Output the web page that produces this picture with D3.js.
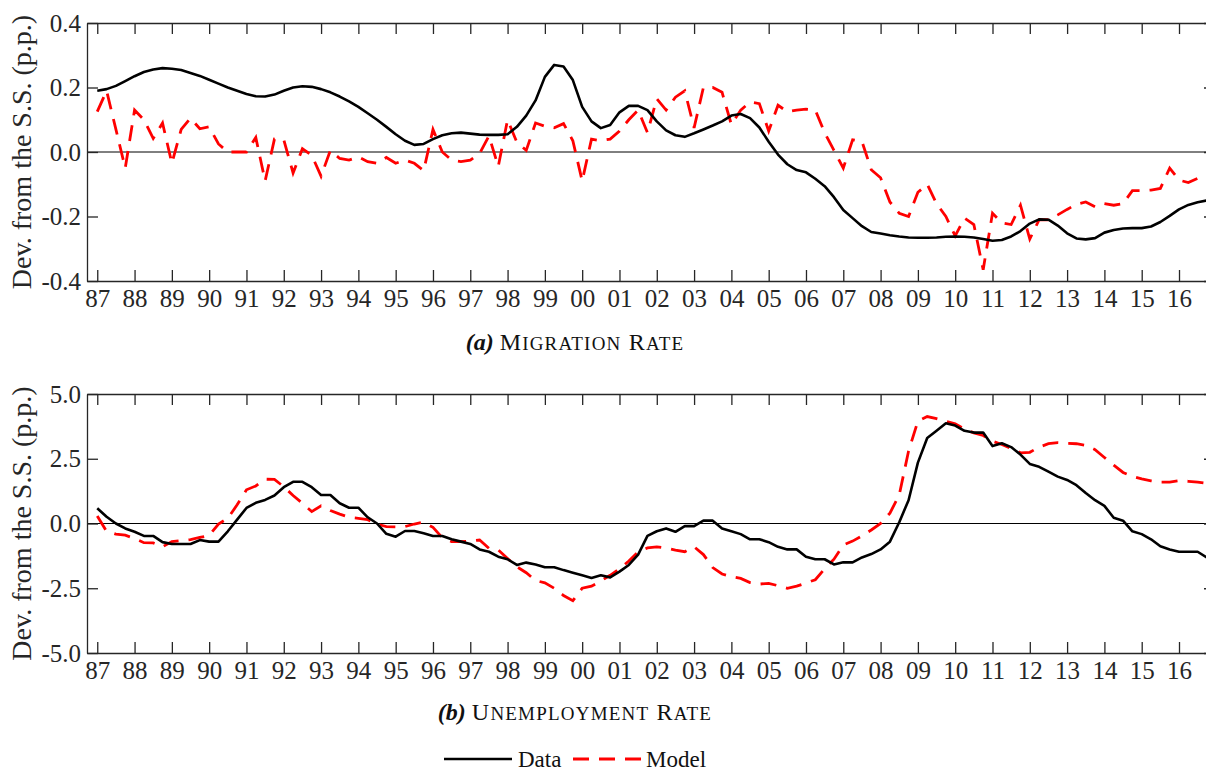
<!DOCTYPE html>
<html><head><meta charset="utf-8">
<script src="https://cdn.jsdelivr.net/npm/d3@7"></script>
<style>
body{margin:0;background:#fff;}
svg{display:block;}
</style>
</head><body>
<svg id="c" width="1206" height="771"></svg>
<script>
// ---- data (quarterly, 1987Q1 .. 2016Q4) ----
const startYear = 1987;
const yearLabels = ["87","88","89","90","91","92","93","94","95","96","97","98","99","00","01","02","03","04","05","06","07","08","09","10","11","12","13","14","15","16"];
const migrationTicks = [-0.4,-0.2,0.0,0.2,0.4];
const unempTicks = [-5.0,-2.5,0.0,2.5,5.0];
const seriesNames = ["Data","Model"];

const migrationData = [
 0.19,0.195,0.205,0.22,0.235,0.248,0.256,0.26,0.258,0.254,0.245,0.236,0.224,0.212,0.2,0.19,
 0.18,0.173,0.172,0.178,0.19,0.2,0.204,0.202,0.195,0.185,0.172,0.157,0.14,0.12,0.1,0.078,
 0.055,0.035,0.022,0.025,0.04,0.052,0.058,0.06,0.057,0.054,0.053,0.053,0.055,0.078,0.113,0.16,
 0.233,0.27,0.265,0.223,0.14,0.095,0.074,0.084,0.123,0.143,0.143,0.13,0.095,0.067,0.052,0.047,
 0.058,0.07,0.082,0.095,0.113,0.118,0.105,0.076,0.032,-0.008,-0.038,-0.056,-0.063,-0.083,-0.106,-0.14,
 -0.18,-0.205,-0.23,-0.248,-0.253,-0.258,-0.262,-0.265,-0.266,-0.266,-0.265,-0.263,-0.262,-0.263,-0.265,-0.27,
 -0.275,-0.273,-0.262,-0.245,-0.222,-0.209,-0.21,-0.228,-0.252,-0.268,-0.271,-0.267,-0.25,-0.242,-0.237,-0.236,
 -0.236,-0.231,-0.217,-0.198,-0.178,-0.164,-0.156,-0.15];
const migrationModel = [
 0.125,0.19,0.07,-0.05,0.13,0.1,0.042,0.09,-0.035,0.07,0.105,0.072,0.078,0.025,0.0,0.0,
 0.0,0.045,-0.09,0.04,0.038,-0.065,0.01,-0.01,-0.075,0.005,-0.02,-0.025,-0.015,-0.03,-0.035,-0.017,
 -0.035,-0.025,-0.035,-0.058,0.07,0.0,-0.025,-0.03,-0.025,-0.005,0.05,-0.045,0.1,0.03,0.005,0.09,
 0.08,0.075,0.088,0.035,-0.09,0.04,0.035,0.04,0.065,0.1,0.13,0.06,0.165,0.13,0.17,0.19,
 0.075,0.2,0.2,0.185,0.085,0.13,0.155,0.15,0.065,0.145,0.125,0.13,0.133,0.13,0.06,0.005,
 -0.05,0.038,0.033,-0.055,-0.08,-0.155,-0.19,-0.2,-0.125,-0.1,-0.16,-0.2,-0.26,-0.205,-0.225,-0.365,
 -0.19,-0.22,-0.225,-0.165,-0.27,-0.21,-0.21,-0.195,-0.178,-0.162,-0.155,-0.17,-0.16,-0.165,-0.16,-0.12,
 -0.12,-0.118,-0.113,-0.05,-0.087,-0.095,-0.082,-0.095];

const unempData = [
 0.59,0.26,0.0,-0.19,-0.32,-0.48,-0.48,-0.72,-0.79,-0.79,-0.79,-0.64,-0.7,-0.7,-0.3,0.15,
 0.6,0.8,0.91,1.08,1.4,1.61,1.61,1.4,1.1,1.1,0.78,0.61,0.61,0.24,0.0,-0.4,
 -0.51,-0.29,-0.29,-0.38,-0.48,-0.48,-0.61,-0.7,-0.79,-1.0,-1.09,-1.28,-1.38,-1.6,-1.51,-1.58,
 -1.69,-1.69,-1.8,-1.9,-2.0,-2.1,-2.0,-2.08,-1.86,-1.6,-1.2,-0.48,-0.3,-0.19,-0.32,-0.1,
 -0.1,0.11,0.11,-0.19,-0.3,-0.41,-0.61,-0.61,-0.72,-0.9,-1.0,-1.0,-1.28,-1.38,-1.38,-1.58,
 -1.5,-1.5,-1.31,-1.18,-1.0,-0.7,0.05,0.9,2.35,3.3,3.58,3.87,3.78,3.58,3.51,3.51,
 2.99,3.1,2.95,2.66,2.3,2.19,2.0,1.81,1.68,1.48,1.18,0.9,0.68,0.22,0.11,-0.3,
 -0.41,-0.61,-0.88,-1.0,-1.09,-1.09,-1.09,-1.32];
const unempModel = [
 0.29,-0.3,-0.41,-0.45,-0.58,-0.74,-0.75,-0.9,-0.7,-0.66,-0.62,-0.54,-0.46,-0.02,0.2,0.72,
 1.3,1.45,1.71,1.7,1.42,1.08,0.78,0.46,0.68,0.5,0.36,0.24,0.2,0.15,-0.02,-0.12,
 -0.13,-0.12,-0.02,0.05,-0.15,-0.55,-0.7,-0.7,-0.68,-0.64,-0.96,-1.02,-1.35,-1.67,-1.9,-2.2,
 -2.29,-2.5,-2.78,-2.98,-2.5,-2.42,-2.22,-2.0,-1.75,-1.45,-1.1,-0.94,-0.9,-0.95,-1.03,-1.09,
 -0.9,-1.2,-1.7,-1.95,-2.05,-2.12,-2.28,-2.34,-2.31,-2.4,-2.5,-2.42,-2.3,-2.17,-1.75,-1.38,
 -0.83,-0.68,-0.48,-0.25,0.0,0.4,1.1,2.8,3.95,4.13,4.05,3.95,3.85,3.65,3.5,3.4,
 3.18,3.05,2.9,2.73,2.75,2.95,3.08,3.12,3.1,3.08,3.02,2.85,2.55,2.25,1.97,1.82,
 1.72,1.65,1.6,1.6,1.65,1.63,1.6,1.55];

// ---- drawing ----
const FONT = '"Liberation Serif", serif';
const svg = d3.select("#c");
const axisColor = "#262626";
const left = 87, right = 1215;

const x = d3.scaleLinear().domain([1986.725, 2016.965]).range([left, right]);
const yearTicks = yearLabels.map((d, i) => startYear + i);

function smallCaps(textSel, str, big, small) {
  str.split(/(\s+)/).forEach(word => {
    if (!word) return;
    if (/^\s+$/.test(word)) { textSel.append("tspan").style("font-size", big + "px").text(word); return; }
    textSel.append("tspan").style("font-size", big + "px").text(word[0]);
    if (word.length > 1)
      textSel.append("tspan").style("font-size", small + "px").text(word.slice(1).toUpperCase());
  });
}

function panel(opts) {
  const {top, bottom, domain, ticks, data, model, caption, captionY, labelY, id} = opts;
  const y = d3.scaleLinear().domain(domain).range([bottom, top]);
  const g = svg.append("g");

  g.append("clipPath").attr("id", id).append("rect")
    .attr("x", left).attr("y", top).attr("width", right - left).attr("height", bottom - top);

  g.append("line").attr("x1", left).attr("x2", right)
    .attr("y1", y(0)).attr("y2", y(0))
    .attr("stroke", "#000").attr("stroke-width", 1);

  const line = d3.line().x((d, i) => x(startYear + i / 4)).y(d => y(d));
  const plot = g.append("g").attr("clip-path", `url(#${id})`);
  plot.append("path").datum(model).attr("d", line)
    .attr("fill", "none").attr("stroke", "#ff0000").attr("stroke-width", 2.8)
    .attr("stroke-dasharray", "16,10");
  plot.append("path").datum(data).attr("d", line)
    .attr("fill", "none").attr("stroke", "#000").attr("stroke-width", 2.6)
    .attr("stroke-linejoin", "round");

  const tl = 11;
  const fmt = d3.format(".1f");
  const bottomAxis = d3.axisBottom(x).tickValues(yearTicks).tickSize(-tl).tickSizeOuter(0)
    .tickFormat((d, i) => yearLabels[i]).tickPadding(8);
  const topAxis = d3.axisTop(x).tickValues(yearTicks).tickSize(-tl).tickSizeOuter(0).tickFormat("");
  const leftAxis = d3.axisLeft(y).tickValues(ticks).tickSize(-tl).tickSizeOuter(0)
    .tickFormat(d => fmt(d).replace("\u2212", "-")).tickPadding(6);
  const rightAxis = d3.axisRight(y).tickValues(ticks).tickSize(-tl).tickSizeOuter(0).tickFormat("");

  const styleAxis = sel => {
    sel.attr("font-family", null).attr("font-size", null);
    sel.selectAll("path.domain").attr("stroke", axisColor).attr("stroke-width", 1.3);
    sel.selectAll(".tick line").attr("stroke", axisColor).attr("stroke-width", 1.3);
    sel.selectAll(".tick text").attr("fill", axisColor)
      .style("font-family", FONT).style("font-size", "25px");
  };
  g.append("g").attr("transform", `translate(0,${bottom})`).call(bottomAxis).call(styleAxis);
  g.append("g").attr("transform", `translate(0,${top})`).call(topAxis).call(styleAxis);
  g.append("g").attr("transform", `translate(${left},0)`).call(leftAxis).call(styleAxis);
  g.append("g").attr("transform", `translate(${right},0)`).call(rightAxis).call(styleAxis);

  g.append("text")
    .attr("transform", `translate(31,${(top + bottom) / 2}) rotate(-90)`)
    .attr("text-anchor", "middle").attr("fill", axisColor)
    .style("font-family", FONT).style("font-size", "28px").text(labelY);

  const cap = g.append("text").attr("x", 575).attr("y", captionY)
    .attr("text-anchor", "middle").attr("fill", "#111")
    .style("font-family", FONT).style("font-size", "24px");
  cap.append("tspan").style("font-weight", "bold").style("font-style", "italic").text(caption[0] + " ");
  const sc = cap.append("tspan").style("letter-spacing", "1.2px");
  smallCaps(sc, caption[1], 24, 19);
}

panel({id: "clipA", top: 23, bottom: 281, domain: [-0.4, 0.4], ticks: migrationTicks,
  data: migrationData, model: migrationModel, caption: ["(a)", "Migration Rate"],
  captionY: 350, labelY: "Dev. from the S.S. (p.p.)"});
panel({id: "clipB", top: 394, bottom: 653, domain: [-5, 5], ticks: unempTicks,
  data: unempData, model: unempModel, caption: ["(b)", "Unemployment Rate"],
  captionY: 720, labelY: "Dev. from the S.S. (p.p.)"});

const leg = svg.append("g");
const ly = 759;
leg.append("line").attr("x1", 444).attr("x2", 512).attr("y1", ly).attr("y2", ly)
  .attr("stroke", "#000").attr("stroke-width", 2.6);
leg.append("text").attr("x", 518).attr("y", ly + 8).attr("fill", "#111")
  .style("font-family", FONT).style("font-size", "23px").text(seriesNames[0]);
leg.append("line").attr("x1", 573).attr("x2", 642).attr("y1", ly).attr("y2", ly)
  .attr("stroke", "#ff0000").attr("stroke-width", 2.8).attr("stroke-dasharray", "16,10");
leg.append("text").attr("x", 646).attr("y", ly + 8).attr("fill", "#111")
  .style("font-family", FONT).style("font-size", "23px").text(seriesNames[1]);
</script>
</body></html>
